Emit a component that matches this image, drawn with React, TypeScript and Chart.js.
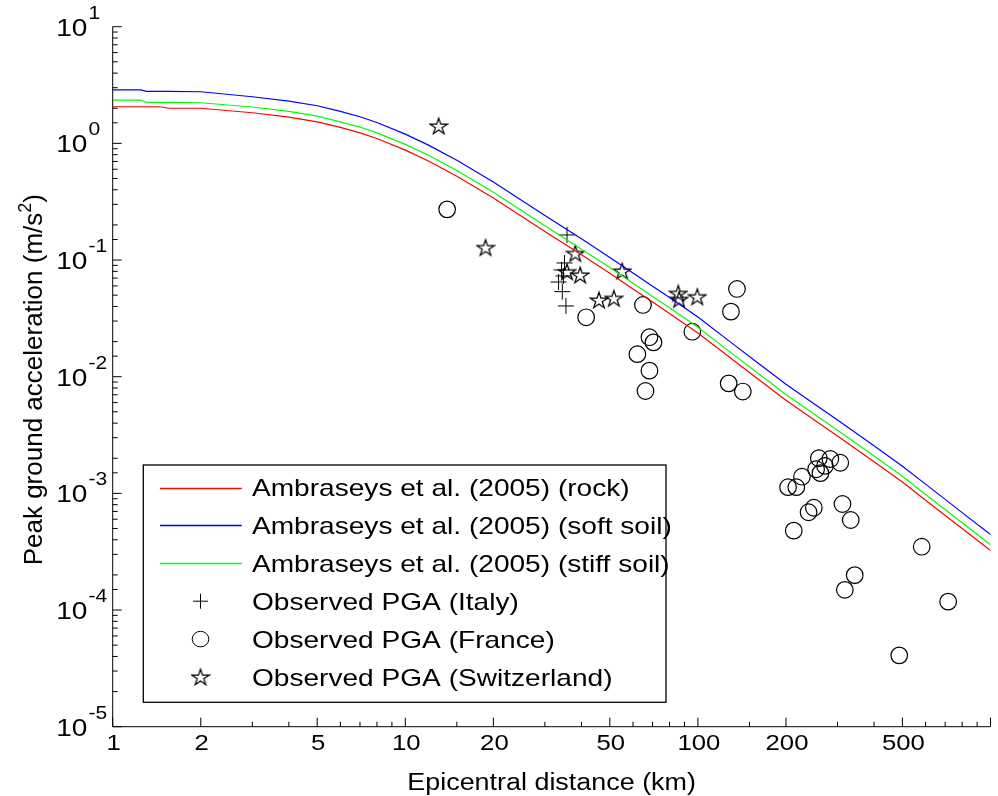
import React, { useEffect, useRef } from 'react';
import { Chart, registerables } from 'chart.js';

Chart.register(...registerables);

// ---------- data ----------
const curveDistances = [1, 1.25, 1.3, 1.45, 1.55, 2, 3, 4, 5, 6, 7, 8, 10, 12, 15, 20, 30, 40, 50, 60, 70, 80, 100, 130, 160, 200, 250, 300, 400, 500, 600, 800, 1000];
const rockPga = [2.06, 2.06, 2.06, 2.06, 2.0, 2.0, 1.83, 1.68, 1.53, 1.37, 1.23, 1.10, 0.875, 0.705, 0.523, 0.340, 0.176, 0.111, 0.0769, 0.0565, 0.0436, 0.0348, 0.0237, 0.0143, 0.00961, 0.00628, 0.00426, 0.0031, 0.00187, 0.00125, 0.000873, 0.000499, 0.000324];
const softSoilPga = [2.87, 2.87, 2.79, 2.79, 2.79, 2.77, 2.51, 2.30, 2.10, 1.88, 1.69, 1.51, 1.20, 0.966, 0.717, 0.466, 0.241, 0.152, 0.105, 0.0774, 0.0597, 0.0477, 0.0325, 0.0196, 0.01317, 0.0086, 0.00584, 0.00425, 0.00256, 0.00171, 0.0012, 0.000684, 0.000444];
const stiffSoilPga = [2.35, 2.35, 2.25, 2.25, 2.25, 2.23, 2.05, 1.88, 1.71, 1.53, 1.38, 1.23, 0.98, 0.79, 0.586, 0.381, 0.197, 0.124, 0.0861, 0.0633, 0.0488, 0.039, 0.0265, 0.016, 0.01076, 0.00703, 0.00477, 0.00347, 0.00209, 0.0014, 0.000978, 0.000559, 0.000363];

const italyDist = [35.7, 35.0, 34.2, 34.7, 33.4, 34.4, 35.4];
const italyPga = [0.164, 0.0944, 0.0822, 0.0730, 0.0648, 0.0536, 0.0404];

const franceDist = [13.9, 41.5, 64.9, 68.3, 70.5, 62.1, 68.3, 66.2, 95.7, 136, 129.7, 127.4, 142.4, 259, 283.6, 306.6, 253.5, 271.8, 262.3, 226.8, 203.3, 216.9, 249, 238.9, 312, 333, 212.6, 582, 343.5, 317.8, 716.6, 487.6];
const francePga = [0.272, 0.0323, 0.0412, 0.0218, 0.0197, 0.0156, 0.01127, 0.00754, 0.0243, 0.0565, 0.0361, 0.00877, 0.00746, 0.0020, 0.00197, 0.00183, 0.00161, 0.00172, 0.00149, 0.00139, 0.00113, 0.00113, 0.000753, 0.000689, 0.000811, 0.000591, 0.000479, 0.000349, 0.000199, 0.000149, 0.000118, 0.0000409];

const swissDist = [13.0, 18.8, 38.1, 35.7, 39.6, 55.1, 45.9, 51.6, 85.7, 86.3, 99.5];
const swissPga = [1.41, 0.128, 0.114, 0.0794, 0.0745, 0.0805, 0.0454, 0.0470, 0.0519, 0.0461, 0.0485];

const seriesLabels = [
  'Ambraseys et al. (2005) (rock)',
  'Ambraseys et al. (2005) (soft soil)',
  'Ambraseys et al. (2005) (stiff soil)',
  'Observed PGA (Italy)',
  'Observed PGA (France)',
  'Observed PGA (Switzerland)',
];

const xTickLabels = [1, 2, 5, 10, 20, 50, 100, 200, 500];
const yTickExponents = [-5, -4, -3, -2, -1, 0, 1];
const xAxisTitle = 'Epicentral distance (km)';
const yAxisTitleMain = 'Peak ground acceleration (m/s';
const yAxisTitleSup = '2';
const yAxisTitleEnd = ')';

// ---------- styling ----------
const FONT = '"Liberation Sans", Arial, Helvetica, sans-serif';
const SX = 1.17;
const CURVE_COLORS = ['rgb(255,0,0)', 'rgb(0,0,255)', 'rgb(0,255,0)'];
const MARKER_KINDS = ['cross', 'circle', 'star'];

function makeStar(): HTMLCanvasElement {
  const c = document.createElement('canvas');
  const s = 20;
  c.width = s;
  c.height = s;
  const g = c.getContext('2d') as CanvasRenderingContext2D;
  const cx = s / 2;
  const cy = s / 2 + 0.8;
  const R = 8.6;
  const r = R * 0.382;
  g.beginPath();
  for (let i = 0; i < 10; i++) {
    const ang = -Math.PI / 2 + (i * Math.PI) / 5;
    const rad = i % 2 === 0 ? R : r;
    const px = cx + rad * Math.cos(ang) * 1.05;
    const py = cy + rad * Math.sin(ang);
    if (i === 0) g.moveTo(px, py);
    else g.lineTo(px, py);
  }
  g.closePath();
  g.strokeStyle = '#000';
  g.lineWidth = 1.25;
  g.stroke();
  return c;
}

function txt(ctx: CanvasRenderingContext2D, s: string, x: number, y: number, size: number, align: CanvasTextAlign, sx = SX) {
  ctx.save();
  ctx.font = `${size}px ${FONT}`;
  ctx.textAlign = align;
  ctx.textBaseline = 'alphabetic';
  ctx.fillStyle = '#000';
  ctx.translate(x, y);
  ctx.scale(sx, 1);
  ctx.fillText(s, 0, 0);
  ctx.restore();
}

function makeDecorPlugin(star: HTMLCanvasElement) {
  return {
    id: 'matlabDecor',
    afterDraw(chart: any) {
      const ctx: CanvasRenderingContext2D = chart.ctx;
      const xs = chart.scales.x;
      const ys = chart.scales.y;
      const ca = chart.chartArea;
      ctx.save();

      // axis lines
      ctx.strokeStyle = '#000';
      ctx.lineWidth = 1;
      ctx.beginPath();
      ctx.moveTo(ca.left, ca.top);
      ctx.lineTo(ca.left, ca.bottom);
      ctx.lineTo(ca.right, ca.bottom);
      ctx.stroke();

      // ticks (inward)
      const isDecade = (v: number) => Math.abs(Math.log10(v) - Math.round(Math.log10(v))) < 1e-6;
      ctx.beginPath();
      xs.ticks.forEach((t: any) => {
        const v = t.value;
        const px = xs.getPixelForValue(v);
        if (px < ca.left - 0.5 || px > ca.right + 0.5) return;
        const major = isDecade(v) || xTickLabels.some((L) => Math.abs(L - v) < 1e-9 * L);
        const len = major ? 9 : 5;
        ctx.moveTo(px, ca.bottom);
        ctx.lineTo(px, ca.bottom - len);
      });
      ys.ticks.forEach((t: any) => {
        const v = t.value;
        const py = ys.getPixelForValue(v);
        if (py < ca.top - 0.5 || py > ca.bottom + 0.5) return;
        const len = isDecade(v) ? 9 : 5;
        ctx.moveTo(ca.left, py);
        ctx.lineTo(ca.left + len, py);
      });
      ctx.stroke();

      // x tick labels
      xTickLabels.forEach((v) => {
        const px = xs.getPixelForValue(v);
        txt(ctx, String(v), px + 1, ca.bottom + 23.3, 22, 'center');
      });

      // y tick labels 10^e
      yTickExponents.forEach((e) => {
        const py = ys.getPixelForValue(Math.pow(10, e));
        txt(ctx, '10', ca.left - 25.3, py + 8.8, 24, 'right');
        txt(ctx, String(e), ca.left - 24.2, py - 8, 18, 'left');
      });

      // x axis title
      txt(ctx, xAxisTitle, (ca.left + ca.right) / 2, 789.5, 23, 'center');

      // y axis title (rotated, with superscript)
      ctx.save();
      ctx.translate(42, (ca.top + ca.bottom) / 2 + 3);
      ctx.rotate(-Math.PI / 2);
      ctx.fillStyle = '#000';
      ctx.textBaseline = 'alphabetic';
      ctx.textAlign = 'left';
      ctx.font = `26px ${FONT}`;
      const wMain = ctx.measureText(yAxisTitleMain).width;
      const wEnd = ctx.measureText(yAxisTitleEnd).width;
      ctx.font = `18px ${FONT}`;
      const wSup = ctx.measureText(yAxisTitleSup).width;
      const total = wMain + wSup + wEnd;
      const start = -total / 2;
      ctx.font = `26px ${FONT}`;
      ctx.fillText(yAxisTitleMain, start, 0);
      ctx.fillText(yAxisTitleEnd, start + wMain + wSup, 0);
      ctx.font = `18px ${FONT}`;
      ctx.fillText(yAxisTitleSup, start + wMain, -11);
      ctx.restore();

      // legend box
      const bx = 143.3, by = 465, bw = 522.7, bh = 237.3;
      ctx.fillStyle = '#fff';
      ctx.fillRect(bx, by, bw, bh);
      ctx.strokeStyle = '#000';
      ctx.lineWidth = 1.3;
      ctx.strokeRect(bx, by, bw, bh);
      const rowY0 = 487.5;
      const rowStep = 37.9;
      seriesLabels.forEach((label, i) => {
        const ry = rowY0 + i * rowStep;
        if (i < 3) {
          ctx.save();
          ctx.strokeStyle = CURVE_COLORS[i];
          ctx.lineWidth = 1.4;
          ctx.beginPath();
          ctx.moveTo(160, Math.round(ry) + 0.5);
          ctx.lineTo(241.7, Math.round(ry) + 0.5);
          ctx.stroke();
          ctx.restore();
        } else {
          const kind = MARKER_KINDS[i - 3];
          const mx = 200.5;
          ctx.strokeStyle = '#000';
          ctx.lineWidth = 1;
          if (kind === 'cross') {
            ctx.beginPath();
            ctx.moveTo(mx - 7.5, ry);
            ctx.lineTo(mx + 7.5, ry);
            ctx.moveTo(mx, ry - 7.5);
            ctx.lineTo(mx, ry + 7.5);
            ctx.stroke();
          } else if (kind === 'circle') {
            ctx.beginPath();
            ctx.ellipse(mx, ry, 8.3, 7.8, 0, 0, Math.PI * 2);
            ctx.stroke();
          } else {
            ctx.drawImage(star, mx - star.width / 2, ry - star.height / 2);
          }
        }
        txt(ctx, label, 252, ry + 8.6, 24, 'left');
      });

      ctx.restore();
    },
  };
}

export default function App() {
  const canvasRef = useRef<HTMLCanvasElement | null>(null);

  useEffect(() => {
    document.body.style.margin = '0';
    const canvas = canvasRef.current;
    if (!canvas) return;
    const star = makeStar();
    const pts = (xs: number[], ys: number[]) => xs.map((x, i) => ({ x, y: ys[i] }));
    const chart = new Chart(canvas, {
      type: 'scatter',
      data: {
        datasets: [
          { label: seriesLabels[0], data: pts(curveDistances, rockPga), showLine: true, borderColor: CURVE_COLORS[0], borderWidth: 1.2, pointRadius: 0, fill: false, tension: 0 },
          { label: seriesLabels[1], data: pts(curveDistances, softSoilPga), showLine: true, borderColor: CURVE_COLORS[1], borderWidth: 1.2, pointRadius: 0, fill: false, tension: 0 },
          { label: seriesLabels[2], data: pts(curveDistances, stiffSoilPga), showLine: true, borderColor: CURVE_COLORS[2], borderWidth: 1.2, pointRadius: 0, fill: false, tension: 0 },
          { label: seriesLabels[3], data: pts(italyDist, italyPga), showLine: false, pointStyle: 'cross', pointRadius: 8, borderColor: '#000', borderWidth: 1, backgroundColor: 'rgba(0,0,0,0)' },
          { label: seriesLabels[4], data: pts(franceDist, francePga), showLine: false, pointStyle: 'circle', pointRadius: 8.3, borderColor: '#000', borderWidth: 1.2, backgroundColor: 'rgba(0,0,0,0)' },
          { label: seriesLabels[5], data: pts(swissDist, swissPga), showLine: false, pointStyle: star, pointRadius: 8, borderColor: '#000', borderWidth: 1, backgroundColor: 'rgba(0,0,0,0)' },
        ] as any,
      },
      options: {
        animation: false,
        responsive: false,
        maintainAspectRatio: false,
        layout: { padding: { left: 112.7, top: 26.7, right: 0.5, bottom: 69.3 } },
        plugins: { legend: { display: false }, tooltip: { enabled: false } },
        scales: {
          x: {
            type: 'logarithmic',
            min: 1,
            max: 1000,
            grid: { display: false, drawTicks: false },
            border: { display: false },
            ticks: { display: false },
            title: { display: false },
          },
          y: {
            type: 'logarithmic',
            min: 1e-5,
            max: 10,
            grid: { display: false, drawTicks: false },
            border: { display: false },
            ticks: { display: false },
            title: { display: false },
          },
        },
      } as any,
      plugins: [makeDecorPlugin(star)],
    });
    return () => chart.destroy();
  }, []);

  return (
    <div style={{ width: 998, height: 796, overflow: 'hidden', background: '#fff' }}>
      <canvas ref={canvasRef} width={1000} height={796} style={{ display: 'block', width: 1000, height: 796 }} />
    </div>
  );
}
